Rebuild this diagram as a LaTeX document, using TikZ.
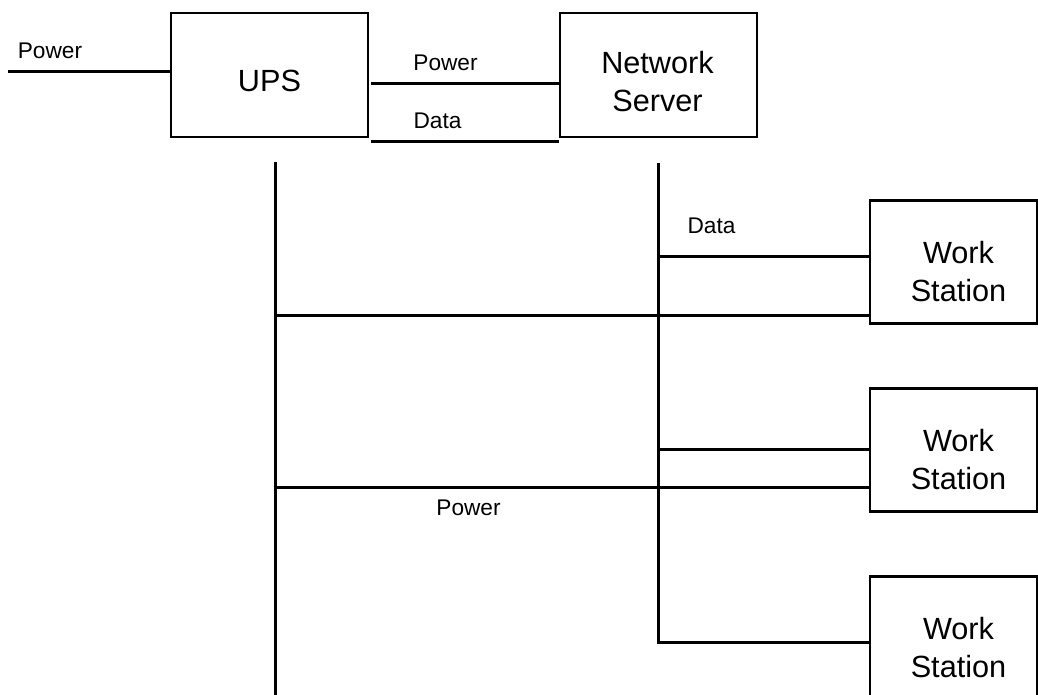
\documentclass[tikz,border=0pt]{standalone}
\usepackage{fontspec}
\setmainfont{Liberation Sans}

\tikzset{
  big/.style={draw,line width=2pt,inner sep=0pt,minimum width=147.75pt,minimum height=93pt},
  station/.style={draw,line width=2pt,inner sep=0pt,minimum width=125.25pt,minimum height=92.25pt},
  boxtext/.style={font=\fontsize{23}{28.5}\selectfont,align=center,inner sep=0pt},
  tag/.style={font=\fontsize{17}{20}\selectfont,inner sep=0pt},
  wire/.style={line width=2.25pt}
}

\begin{document}
\begin{tikzpicture}[x=0.75pt,y=-0.75pt]
\clip (0,0) rectangle (1038,695);
% Boxes
\node[big] (ups) at (269.5,75) {};
\node[big] (server) at (658.5,75) {};
\node[station] (ws1) at (953.5,262) {};
\node[station] (ws2) at (953.5,450) {};
\node[station] (ws3) at (953.5,638) {};
% Box texts
\node[boxtext] (upslabel) at ([shift={(0,6)}]ups.center) {UPS};
\node[boxtext] (serverlabel) at ([shift={(-1,7)}]server.center) {Network\\Server};
\node[boxtext] (ws1label) at ([shift={(5,10)}]ws1.center) {Work\\Station};
\node[boxtext] (ws2label) at ([shift={(5,10)}]ws2.center) {Work\\Station};
\node[boxtext] (ws3label) at ([shift={(5,10)}]ws3.center) {Work\\Station};
% Mains in
\coordinate (mains) at (8,72);
\draw[wire] (mains) -- (mains -| ups.west);
\node[tag] (mainslabel) at (50,51) {Power};
% UPS to server
\coordinate (linkp) at (371,84);
\coordinate (linkd) at (371,142);
\draw[wire] (linkp) -- (linkp -| server.west);
\draw[wire] (linkd) -- (linkd -| server.west);
\node[tag] (linkplabel) at (445.5,63) {Power};
\node[tag] (linkdlabel) at (437.5,121) {Data};
% Power bus
\coordinate (pbus) at (275,162);
\coordinate (pbusend) at (275,700);
\coordinate (p1) at (275,315);
\coordinate (p2) at (275,487);
\draw[wire] (pbus) -- (pbusend);
\draw[wire] (p1) -- (p1 -| ws1.west);
\draw[wire] (p2) -- (p2 -| ws2.west);
\node[tag] (pbuslabel) at (468.5,508) {Power};
% Data bus
\coordinate (dbus) at (658,163);
\coordinate (d1) at (658,257);
\coordinate (d2) at (658,449);
\coordinate (d3) at (658,642);
\draw[wire] (dbus) -- (d3) -- (d3 -| ws3.west);
\draw[wire] (d1) -- (d1 -| ws1.west);
\draw[wire] (d2) -- (d2 -| ws2.west);
\node[tag] (dbuslabel) at (711.5,226) {Data};
\end{tikzpicture}
\end{document}
